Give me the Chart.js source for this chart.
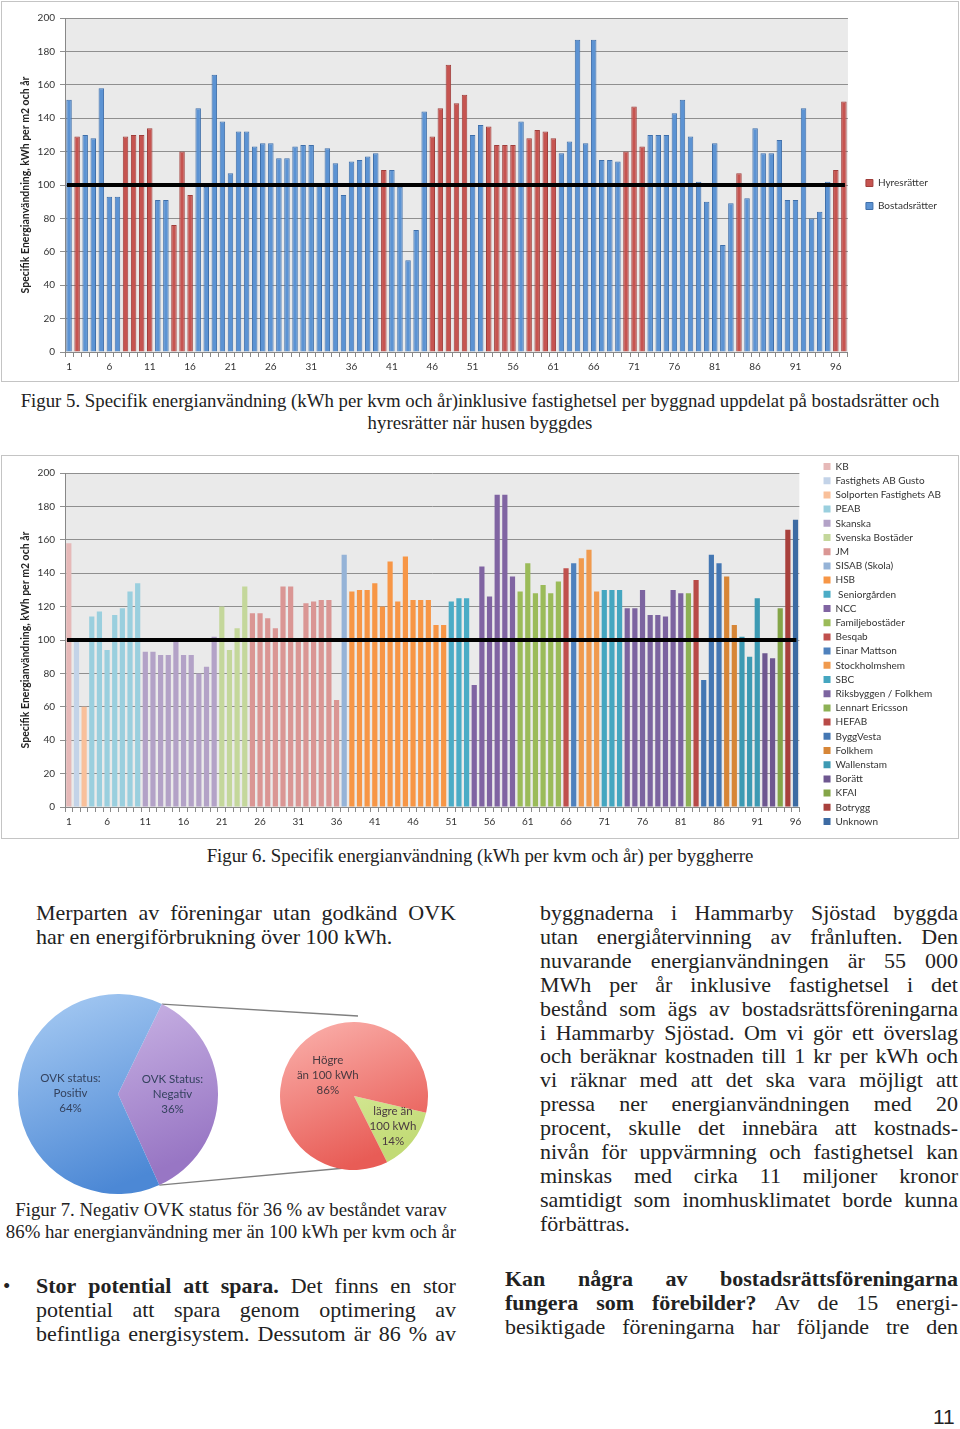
<!DOCTYPE html>
<html>
<head>
<meta charset="utf-8">
<script src="https://cdn.jsdelivr.net/npm/chart.js@4.4.1/dist/chart.umd.min.js"></script>
<style>
  body { margin: 0; width: 960px; height: 1429px; position: relative; background: #fff; overflow: hidden;
         font-family: "Liberation Serif", "DejaVu Serif", serif; color: #222; }
  .box { position: absolute; border: 1px solid #c4c4c4; box-sizing: border-box; }
  .abs { position: absolute; }
  .cap { position: absolute; text-align: center; font-size: 18.8px; line-height: 22px; white-space: nowrap; }
  .txt { position: absolute; font-size: 22px; line-height: 23.9px; }
  .txt div { white-space: nowrap; }
  .txt .j { display: flex; justify-content: space-between; }
</style>
</head>
<body>

<div class="box" style="left:1px;top:1px;width:958px;height:381px"><canvas id="chart1"></canvas></div>
<div class="cap" style="left:0;top:390px;width:960px">Figur 5. Specifik energianvändning (kWh per kvm och år)inklusive fastighetsel per byggnad uppdelat på bostadsrätter och<br>hyresrätter när husen byggdes</div>

<div class="box" style="left:1px;top:455px;width:958px;height:384px"><canvas id="chart2"></canvas></div>
<div class="cap" style="left:0;top:845px;width:960px">Figur 6. Specifik energianvändning (kWh per kvm och år) per byggherre</div>

<div class="txt" style="left:36px;top:901px;width:420px">
  <div class="j">Merparten av föreningar utan godkänd OVK</div>
  <div>har en energiförbrukning över 100 kWh.</div>
</div>

<canvas id="links" class="abs" style="left:0;top:980px" width="460" height="210"></canvas>
<div class="abs" style="left:18px;top:994px;width:200px;height:200px"><canvas id="pieA"></canvas></div>
<div class="abs" style="left:280px;top:1022px;width:148px;height:148px"><canvas id="pieB"></canvas></div>
<div class="cap" style="left:0;top:1199px;width:462px">Figur 7. Negativ OVK status för 36 % av beståndet varav<br>86% har energianvändning mer än 100 kWh per kvm och år</div>

<div class="abs" style="left:3px;top:1274px;font-size:21px;line-height:24px">•</div>
<div class="txt" style="left:36px;top:1274px;width:420px">
  <div class="j"><b>Stor potential att spara.</b> Det finns en stor</div>
  <div class="j">potential att spara genom optimering av</div>
  <div class="j">befintliga energisystem. Dessutom är 86 % av</div>
</div>

<div class="txt" style="left:540px;top:901px;width:418px">
  <div class="j">byggnaderna i Hammarby Sjöstad byggda</div>
  <div class="j">utan energiåtervinning av frånluften. Den</div>
  <div class="j">nuvarande energianvändningen är 55 000</div>
  <div class="j">MWh per år inklusive fastighetsel i det</div>
  <div class="j">bestånd som ägs av bostadsrättsföreningarna</div>
  <div class="j">i Hammarby Sjöstad. Om vi gör ett överslag</div>
  <div class="j">och beräknar kostnaden till 1 kr per kWh och</div>
  <div class="j">vi räknar med att det ska vara möjligt att</div>
  <div class="j">pressa ner energianvändningen med 20</div>
  <div class="j">procent, skulle det innebära att kostnads-</div>
  <div class="j">nivån för uppvärmning och fastighetsel kan</div>
  <div class="j">minskas med cirka 11 miljoner kronor</div>
  <div class="j">samtidigt som inomhusklimatet borde kunna</div>
  <div>förbättras.</div>
</div>

<div class="txt" style="left:505px;top:1267px;width:453px">
  <div class="j"><b>Kan några av bostadsrättsföreningarna</b></div>
  <div class="j"><b>fungera som förebilder?</b> Av de 15 energi-</div>
  <div class="j">besiktigade föreningarna har följande tre den</div>
</div>

<div class="abs" style="left:933px;top:1405px;font-family:'Liberation Sans',sans-serif;font-size:21px">11</div>

<script>
// Figur 5: energi per byggnad (97 byggnader)
const energy1 = [151,129,130,128,158,93,93,129,130,130,134,91,91,76,120,94,146,99,166,138,
                 107,132,132,123,125,125,116,116,123,124,124,101,122,113,94,114,115,117,119,109,
                 109,99,55,73,144,129,146,172,149,154,130,136,135,124,124,124,138,128,133,132,
                 128,119,126,187,125,187,115,115,114,120,147,123,130,130,130,143,151,129,102,90,
                 125,64,89,107,92,134,119,119,127,91,91,146,80,84,102,109,150];
// byggnader som är hyresrätter (resten är bostadsrätter)
const rentalBuildings = [2,8,9,10,11,14,15,16,40,46,47,48,49,50,53,54,55,56,58,59,60,61,70,71,72,84,96,97];
const tenureNames = ["Hyresrätter", "Bostadsrätter"];

// Figur 6: energi per byggnad sorterat per byggherre (96 byggnader)
const energy2 = [158,99,60,114,117,94,115,119,129,134,93,93,91,91,99,91,91,80,84,102,
                 120,94,107,132,116,116,113,107,132,132,99,122,123,124,124,64,151,129,130,130,
                 134,120,147,123,150,124,124,124,109,109,123,125,125,73,144,126,187,187,138,129,
                 146,128,133,128,135,143,146,149,154,129,130,130,130,119,119,130,115,115,114,130,
                 128,128,136,76,151,146,138,109,102,90,125,92,89,119,166,172];
const builders = ["KB","Fastighets AB Gusto","Solporten Fastighets AB","PEAB","Skanska","Svenska Bostäder","JM",
                  "SISAB (Skola)","HSB"," Seniorgården","NCC","Familjebostäder","Besqab","Einar Mattson",
                  "Stockholmshem","SBC","Riksbyggen / Folkhem","Lennart Ericsson","HEFAB","ByggVesta","Folkhem",
                  "Wallenstam","Borätt","KFAI","Botrygg","Unknown"];
const builderCounts = [1,1,1,7,10,4,12,1,13,3,6,6,1,1,3,3,8,1,1,3,2,3,2,1,1,1];

const limitValue = 100;
const yTicksMax = 200, yTicksStep = 20;

// Figur 7
const ovkLabels = [["OVK Status:", "Negativ"], ["OVK status:", "Positiv"]];
const ovkShares = [36, 64];
const kwhLabels = [["lägre än", "100 kWh"], ["Högre", "än 100 kWh"]];
const kwhShares = [14, 86];

const builderColors = ["#E6B9B8","#C3D3E8","#F9C09A","#9ACFDE","#B3A2C7","#C4D79B","#DA9694",
                       "#95B3D7","#F79646","#4BACC6","#8064A2","#9BBB59","#C0504D","#4F81BD",
                       "#F09A4E","#45A6C0","#7C64A0","#8DB155","#B84A47","#4477B3","#D78637",
                       "#3D9AB3","#6E5790","#84A548","#A8403C","#3D6BA3"];

// justerade rader: ord fördelas över hela bredden
document.querySelectorAll(".j").forEach(line => {
  const words = [];
  line.childNodes.forEach(n => {
    const bold = n.nodeType === 1;
    n.textContent.trim().split(/\s+/).filter(Boolean).forEach(w => words.push([w, bold]));
  });
  line.innerHTML = "";
  words.forEach(([w, bold]) => {
    const s = document.createElement(bold ? "b" : "span");
    s.textContent = w;
    line.appendChild(s);
  });
});

Chart.defaults.font.family = 'Lato, "Open Sans", sans-serif';
Chart.defaults.font.size = 10;
Chart.defaults.color = "#333";
Chart.defaults.animation = false;

const plotBg = {
  id: "plotBg",
  beforeDraw(chart) {
    const { ctx, chartArea: a } = chart;
    ctx.save();
    ctx.fillStyle = "#EAEAEA";
    ctx.fillRect(a.left, a.top, a.right - a.left, a.bottom - a.top);
    ctx.restore();
  }
};

// svart linje vid 100 kWh
const limitLine = {
  id: "limitLine",
  afterDatasetsDraw(chart) {
    const { ctx, chartArea: a } = chart;
    const y = chart.scales.y.getPixelForValue(limitValue);
    ctx.save();
    ctx.strokeStyle = "#000";
    ctx.lineWidth = 4;
    ctx.beginPath();
    ctx.moveTo(a.left + 2, y);
    ctx.lineTo(a.right - 3, y);
    ctx.stroke();
    ctx.restore();
  }
};

function spacer(position, size) {
  return {
    type: "linear", position, display: true,
    grid: { display: false }, ticks: { display: false }, border: { display: false },
    afterFit: s => { if (position === "top") s.height = size; else s.width = size; }
  };
}

function barOptions(labels, pad, topGap, gapWidth, legendPad) {
  return {
    responsive: true,
    maintainAspectRatio: false,
    layout: { padding: pad },
    datasets: { bar: { barPercentage: 0.68, categoryPercentage: 1 } },
    scales: {
      x: {
        stacked: true,
        grid: { drawOnChartArea: false, tickLength: 5, color: "#888" },
        border: { color: "#888" },
        ticks: { autoSkip: false, maxRotation: 0, padding: 4,
                 callback: (v, i) => (i % 5 === 0 ? labels[i] : "") }
      },
      y: {
        stacked: true, min: 0, max: yTicksMax,
        ticks: { stepSize: yTicksStep, padding: 5 },
        grid: { color: "#8f8f8f", tickLength: 5 },
        border: { color: "#888" },
        title: { display: true, text: "Specifik Energianvändning, kWh per m2 och år", color: "#222",
                 font: { weight: "bold", size: 10.5 }, padding: { top: 0, bottom: 1 } }
      },
      gapTop: spacer("top", topGap),
      gapRight: spacer("right", gapWidth)
    },
    plugins: {
      legend: { position: "right", labels: { boxWidth: 7, boxHeight: 7, padding: legendPad, font: { size: 10 } } },
      tooltip: { enabled: false }
    }
  };
}

// Figur 5
const labels1 = energy1.map((v, i) => String(i + 1));
const isRental = labels1.map((l, i) => rentalBuildings.includes(i + 1));
new Chart(document.getElementById("chart1"), {
  type: "bar",
  data: {
    labels: labels1,
    datasets: [
      { label: tenureNames[0], data: energy1.map((v, i) => (isRental[i] ? v : null)),
        backgroundColor: "#C65450", borderColor: "#A03E3B", borderWidth: 1 },
      { label: tenureNames[1], data: energy1.map((v, i) => (isRental[i] ? null : v)),
        backgroundColor: "#5C93D3", borderColor: "#3F6FAA", borderWidth: 1 }
    ]
  },
  options: barOptions(labels1, { left: 17, top: 10, right: 11, bottom: 4 }, 6, 5, 13),
  plugins: [plotBg, limitLine]
});

// Figur 6
const labels2 = energy2.map((v, i) => String(i + 1));
const builderOf = [];
builderCounts.forEach((n, b) => { for (let k = 0; k < n; k++) builderOf.push(b); });
new Chart(document.getElementById("chart2"), {
  type: "bar",
  data: {
    labels: labels2,
    datasets: builders.map((name, b) => ({
      label: name,
      data: energy2.map((v, i) => (builderOf[i] === b ? v : null)),
      backgroundColor: builderColors[b]
    }))
  },
  options: barOptions(labels2, { left: 17, top: 0, right: 7, bottom: 6 }, 17, 20, 4.2),
  plugins: [plotBg, limitLine]
});

// Figur 7: tårtdiagram med etiketter
function shade(pairs) {
  return (ctx) => {
    const [c1, c2] = pairs[ctx.dataIndex];
    const a = ctx.chart.chartArea;
    if (!a) return c2;
    const g = ctx.chart.ctx.createLinearGradient(a.left, a.top, a.left + (a.right - a.left) * 0.4, a.bottom);
    g.addColorStop(0, c1);
    g.addColorStop(1, c2);
    return g;
  };
}

const pieText = {
  id: "pieText",
  afterDatasetsDraw(chart, args, opts) {
    const { ctx } = chart;
    const meta = chart.getDatasetMeta(0);
    ctx.save();
    ctx.fillStyle = opts.color;
    ctx.font = '11.5px Lato, "Open Sans", sans-serif';
    ctx.textAlign = "center";
    ctx.textBaseline = "middle";
    meta.data.forEach((arc, i) => {
      const p = arc.getProps(["x", "y", "startAngle", "endAngle", "outerRadius"]);
      const mid = (p.startAngle + p.endAngle) / 2;
      const r = p.outerRadius * opts.radius[i];
      const cx = p.x + Math.cos(mid) * r, cy = p.y + Math.sin(mid) * r;
      const lines = opts.lines[i];
      lines.forEach((t, k) => ctx.fillText(t, cx, cy + (k - (lines.length - 1) / 2) * 15));
    });
    ctx.restore();
  }
};

function pieOptions(rotation, lines, radius, color) {
  return {
    responsive: true, maintainAspectRatio: false, rotation,
    layout: { padding: 0 },
    elements: { arc: { borderWidth: 0 } },
    plugins: { legend: { display: false }, tooltip: { enabled: false },
               pieText: { lines, radius, color } }
  };
}

const pieA = new Chart(document.getElementById("pieA"), {
  type: "pie",
  data: { labels: ovkLabels.map(l => l.join(" ")),
          datasets: [{ data: ovkShares, backgroundColor: shade([["#D5C2EC", "#9876C4"], ["#AACDF4", "#4C88D5"]]) }] },
  options: pieOptions(26, ovkLabels.map((l, i) => [...l, ovkShares[i] + "%"]), [0.545, 0.475], "#34425E"),
  plugins: [pieText]
});

const pieB = new Chart(document.getElementById("pieB"), {
  type: "pie",
  data: { labels: kwhLabels.map(l => l.join(" ")),
          datasets: [{ data: kwhShares, backgroundColor: shade([["#EAF5B8", "#C2DB76"], ["#FBB3AE", "#E85C56"]]) }] },
  options: pieOptions(103, kwhLabels.map((l, i) => [...l, kwhShares[i] + "%"]), [0.67, 0.45], "#4A3A40"),
  plugins: [pieText]
});

// förbindelselinjer mellan tårtorna
(function drawLinks() {
  const cv = document.getElementById("links");
  const ctx = cv.getContext("2d");
  const base = cv.getBoundingClientRect();
  const ra = pieA.canvas.getBoundingClientRect();
  const rb = pieB.canvas.getBoundingClientRect();
  const neg = pieA.getDatasetMeta(0).data[0].getProps(["x", "y", "startAngle", "endAngle", "outerRadius"]);
  const b = pieB.getDatasetMeta(0).data[0].getProps(["x", "y", "outerRadius"]);
  const ax = ra.left - base.left, ay = ra.top - base.top;
  const bx = rb.left - base.left + b.x, by = rb.top - base.top + b.y;
  const p1 = [ax + neg.x + Math.cos(neg.startAngle) * neg.outerRadius, ay + neg.y + Math.sin(neg.startAngle) * neg.outerRadius];
  const p2 = [ax + neg.x + Math.cos(neg.endAngle) * neg.outerRadius, ay + neg.y + Math.sin(neg.endAngle) * neg.outerRadius];
  ctx.strokeStyle = "#7f7f7f";
  ctx.lineWidth = 1.3;
  ctx.beginPath();
  ctx.moveTo(p1[0], p1[1]); ctx.lineTo(bx + 4, by - b.outerRadius - 6);
  ctx.moveTo(p2[0], p2[1]); ctx.lineTo(bx + 2, by + b.outerRadius - 3);
  ctx.stroke();
})();
</script>
</body>
</html>
